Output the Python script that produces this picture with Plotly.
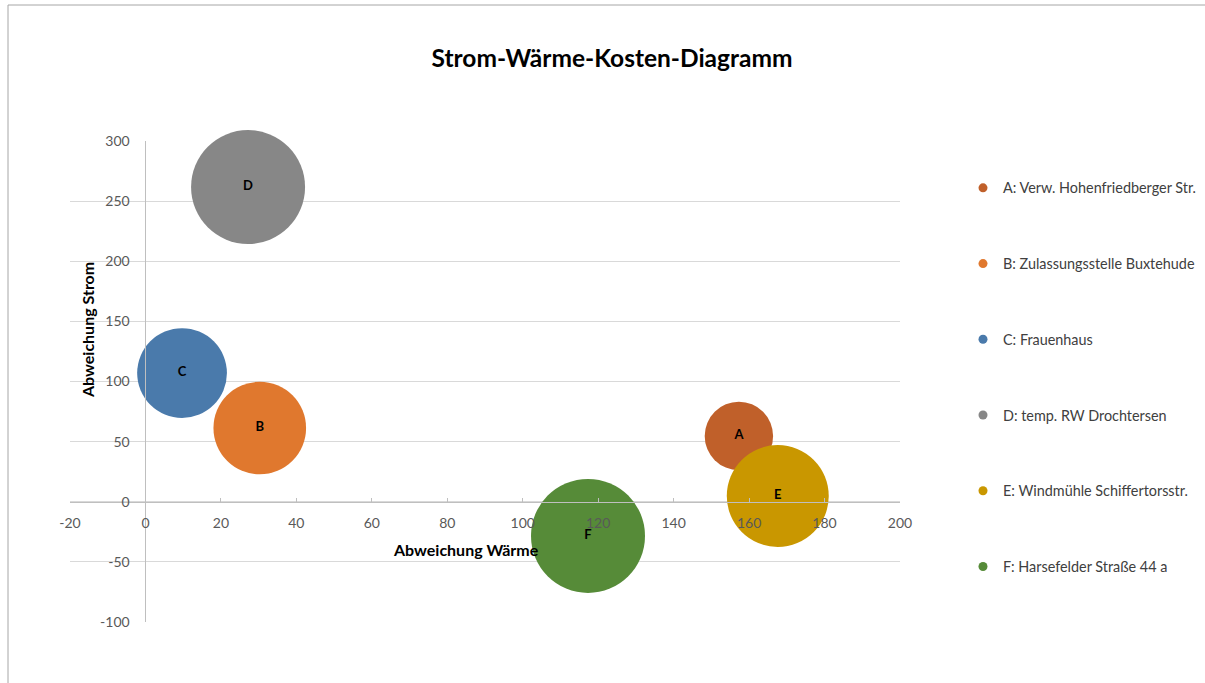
import plotly.graph_objects as go

labels = ["A", "B", "C", "D", "E", "F"]
names = [
    "A: Verw. Hohenfriedberger Str.",
    "B: Zulassungsstelle Buxtehude",
    "C: Frauenhaus",
    "D: temp. RW Drochtersen",
    "E: Windmühle Schiffertorsstr.",
    "F: Harsefelder Straße 44 a",
]
abw_waerme = [157.3, 30.3, 9.7, 27.2, 167.6, 117.3]
abw_strom = [54.7, 61.3, 107.0, 261.7, 4.8, -28.4]
bubble_size = [36, 66, 62, 100, 80, 100]
colors = ["#C0602A", "#E0782E", "#4A7AAB", "#878787", "#C99700", "#568B38"]

x_tickvals = [-20, 0, 20, 40, 60, 80, 100, 120, 140, 160, 180, 200]
x_ticktext = ["-20", "0", "20", "40", "60", "80", "100", "120", "140", "160", "180", "200"]
y_tickvals = [-100, -50, 0, 50, 100, 150, 200, 250, 300]
y_ticktext = ["-100", "-50", "0", "50", "100", "150", "200", "250", "300"]

FONT = "Lato, 'Liberation Sans', sans-serif"
max_d = 114
sizeref = 2 * max(bubble_size) / (max_d ** 2)

fig = go.Figure()
for i in range(len(labels)):
    fig.add_trace(go.Scatter(
        x=[abw_waerme[i]], y=[abw_strom[i]],
        mode="markers+text",
        text=["<b>" + labels[i] + "</b>"],
        textposition="middle center",
        textfont=dict(size=13, color="#000000", family=FONT),
        marker=dict(size=[bubble_size[i]], sizemode="area", sizeref=sizeref,
                    color=colors[i], opacity=1, line=dict(width=0)),
        name=names[i], showlegend=False, hoverinfo="skip",
        cliponaxis=(labels[i] != "D"),
    ))
for i in range(len(labels)):
    fig.add_trace(go.Scatter(
        x=[None], y=[None], mode="markers",
        marker=dict(size=9, color=colors[i]),
        name=names[i], legendgroup=labels[i], showlegend=True,
    ))

L, R, T, B = 70, 900, 141, 622
W, H = 1205, 683

def px(x):
    return (x - L) / (R - L)

def py(y):
    return (B - y) / (B - T)

fig.update_layout(
    width=W, height=H,
    margin=dict(l=L, r=W - R, t=T, b=H - B, pad=0, autoexpand=False),
    paper_bgcolor="white", plot_bgcolor="white",
    font=dict(family=FONT, size=14, color="#595959"),
    title=dict(text="<b>Strom-Wärme-Kosten-Diagramm</b>", x=612 / W, xanchor="center",
               y=1 - 58 / H, yanchor="middle",
               font=dict(size=24.5, color="#000000", family=FONT)),
    xaxis=dict(range=[-20, 200], tickvals=x_tickvals, ticktext=x_ticktext,
               showgrid=False, zeroline=False,
               showline=True, linecolor="#BFBFBF", linewidth=1,
               ticks="inside", ticklen=4, tickcolor="#BFBFBF",
               anchor="free", position=0.25, ticklabelstandoff=8,
               tickfont=dict(size=14, color="#595959"), layer="above traces"),
    yaxis=dict(range=[-100, 300], tickvals=y_tickvals, ticktext=y_ticktext,
               showgrid=True, gridcolor="#D9D9D9", gridwidth=1,
               zeroline=False, showline=True, linecolor="#BFBFBF", linewidth=1,
               ticks="", anchor="free", position=20 / 220, ticklabelstandoff=13,
               tickfont=dict(size=14, color="#595959")),
    legend=dict(x=px(963), y=py(172), xanchor="left", yanchor="top",
                tracegroupgap=54, font=dict(size=14.4, color="#404040", family=FONT),
                bgcolor="rgba(0,0,0,0)"),
    showlegend=True,
    annotations=[
        dict(text="<b>Abweichung Wärme</b>", x=px(466), y=py(549), xref="paper", yref="paper",
             showarrow=False, xanchor="center", yanchor="middle",
             font=dict(size=16, color="#000000", family=FONT)),
        dict(text="<b>Abweichung Strom</b>", x=px(87), y=py(330), xref="paper", yref="paper",
             showarrow=False, xanchor="center", yanchor="middle", textangle=-90,
             font=dict(size=16, color="#000000", family=FONT)),
    ],
    shapes=[
        dict(type="line", xref="paper", yref="paper", x0=px(8), x1=px(8), y0=py(5), y1=py(700),
             line=dict(color="#A6A6A6", width=1)),
        dict(type="line", xref="paper", yref="paper", x0=px(8), x1=px(1210), y0=py(5), y1=py(5),
             line=dict(color="#A6A6A6", width=1)),
    ],
)

fig.write_html("out.html")
